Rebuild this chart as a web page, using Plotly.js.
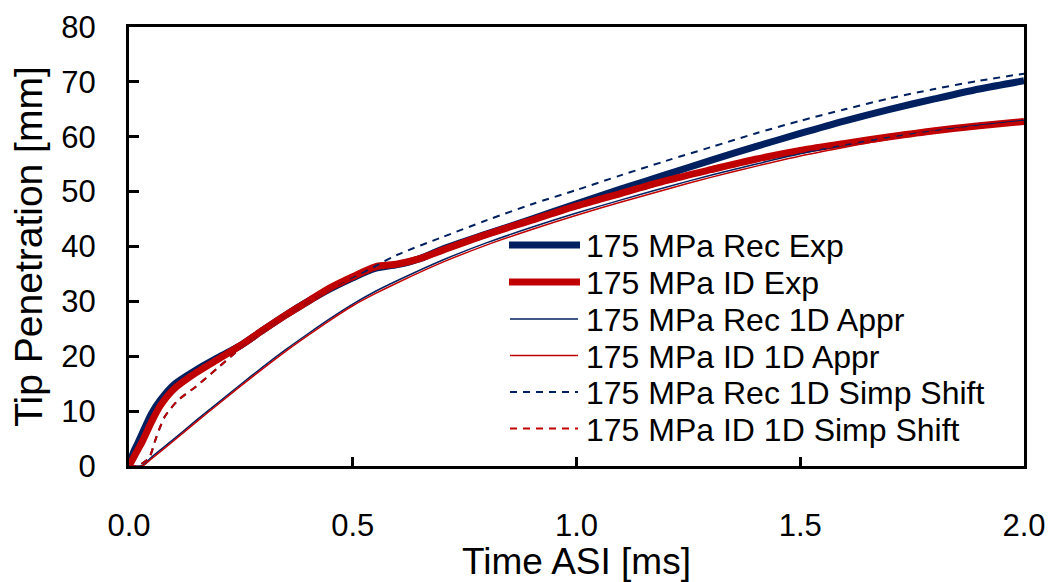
<!DOCTYPE html>
<html>
<head>
<meta charset="utf-8">
<script src="https://cdn.plot.ly/plotly-3.0.1.min.js"></script>
<style>html,body{margin:0;padding:0;background:#fff;}#chart{width:1055px;height:582px;}</style>
</head>
<body>
<div id="chart"></div>
<script>
// Time after start of injection [ms]
const timeExp = [0, 0.01, 0.02, 0.03, 0.05, 0.07, 0.1, 0.15, 0.2, 0.25, 0.3, 0.35, 0.4, 0.45, 0.5, 0.55, 0.6, 0.65, 0.7, 0.8, 0.9, 1.0, 1.1, 1.2, 1.3, 1.4, 1.5, 1.6, 1.7, 1.8, 1.9, 2.0];
const recExp = [0, 2.5, 4.2, 6, 9.5, 12, 14.8, 17.5, 19.8, 22, 24.8, 27.5, 30, 32.3, 34.3, 36, 36.7, 37.8, 39.5, 42.3, 45, 47.8, 50.5, 53.1, 55.7, 58.2, 60.6, 62.9, 65, 66.9, 68.7, 70.2];
const idExp = [0, 1.5, 3, 4.5, 8, 11, 14, 17, 19.5, 22, 24.8, 27.5, 30, 32.5, 34.5, 36.3, 36.8, 37.8, 39.3, 42.2, 44.8, 47.4, 49.7, 52, 54, 55.9, 57.5, 58.8, 60, 61.1, 62, 62.8];

const timeAppr = [0, 0.03, 0.05, 0.1, 0.15, 0.2, 0.25, 0.3, 0.35, 0.4, 0.45, 0.5, 0.55, 0.6, 0.7, 0.8, 0.9, 1.0, 1.1, 1.2, 1.3, 1.4, 1.5, 1.6, 1.7, 1.8, 1.9, 2.0];
const recAppr = [0, 0.1, 1.6, 4.9, 8.3, 11.6, 14.9, 18.1, 21.2, 24.1, 26.9, 29.5, 31.8, 33.8, 37.5, 40.7, 43.5, 46.1, 48.5, 50.8, 53, 55, 56.9, 58.5, 59.9, 61.1, 62.1, 63];
const idAppr = [0, 0, 1.3, 4.6, 8, 11.3, 14.6, 17.8, 20.9, 23.8, 26.6, 29.2, 31.4, 33.4, 37.1, 40.3, 43.1, 45.7, 48.1, 50.4, 52.6, 54.6, 56.5, 58.1, 59.6, 60.9, 61.9, 62.8];

const timeShift = [0, 0.02, 0.03, 0.045, 0.06, 0.08, 0.11, 0.15, 0.2, 0.25, 0.3, 0.35, 0.4, 0.45, 0.5, 0.55, 0.6, 0.7, 0.8, 0.9, 1.0, 1.1, 1.2, 1.3, 1.4, 1.5, 1.6, 1.7, 1.8, 1.9, 2.0];
const recShift = [0, 0, 0.5, 1.5, 5, 9, 12, 14.5, 18, 21.5, 24.5, 27.3, 29.8, 32, 34.2, 36.4, 38.5, 41.7, 44.8, 47.7, 50.3, 53, 55.6, 58.1, 60.6, 62.9, 65, 67, 68.7, 70.2, 71.5];
const idShift = [0, 0, 0.5, 1.5, 5, 9, 12, 14.5, 18, 21.5, 24.5, 27.3, 29.8, 32, 34, 35.8, 37, 39.5, 42, 44.5, 47, 49.4, 51.6, 53.7, 55.6, 57.2, 58.6, 59.9, 61, 61.9, 62.7];

const seriesNames = ["175 MPa Rec Exp", "175 MPa ID Exp", "175 MPa Rec 1D Appr", "175 MPa ID 1D Appr", "175 MPa Rec 1D Simp Shift", "175 MPa ID 1D Simp Shift"];
const xTickVals = [0, 0.5, 1.0, 1.5, 2.0];
const xTickText = ["0.0", "0.5", "1.0", "1.5", "2.0"];
const yTickVals = [0, 10, 20, 30, 40, 50, 60, 70, 80];

const NAVY = "#002060";
const RED = "#C00000";
const FONT = "Liberation Sans, Arial, sans-serif";

const styles = [
  {color: NAVY, width: 7},
  {color: RED, width: 7},
  {color: NAVY, width: 1.5},
  {color: RED, width: 1.5},
  {color: NAVY, width: 2, dash: "7px,6px"},
  {color: RED, width: 2, dash: "7px,6px"}
];
const xs = [timeExp, timeExp, timeAppr, timeAppr, timeShift, timeShift];
const ys = [recExp, idExp, recAppr, idAppr, recShift, idShift];

const traces = ys.map((y, i) => ({
  type: "scatter", mode: "lines", x: xs[i], y: y, name: seriesNames[i],
  line: Object.assign({shape: "spline", smoothing: 0.8}, styles[i]),
  showlegend: false
}));

// Legend drawn in paper coordinates (plot area: x 129..1024 px, y 27..466 px)
const plotL = 129, plotW = 895, plotB = 466, plotH = 439;
const px2x = p => (p - plotL) / plotW;
const px2y = p => (plotB - p) / plotH;
const legendRows = [245, 282, 319, 355.5, 392, 428.5];
const shapes = [];
const annotations = [];
legendRows.forEach((ry, i) => {
  const thick = styles[i].width > 5;
  shapes.push({
    type: "line", xref: "paper", yref: "paper",
    x0: px2x(thick ? 509 : 510), x1: px2x(thick ? 580 : 578), y0: px2y(ry), y1: px2y(ry),
    line: {color: styles[i].color, width: styles[i].width, dash: styles[i].dash || "solid"}
  });
  annotations.push({
    xref: "paper", yref: "paper", x: px2x(584), y: px2y(ry + 1),
    xanchor: "left", yanchor: "middle", showarrow: false,
    text: seriesNames[i], font: {family: FONT, size: 32, color: "#000"}
  });
});

const layout = {
  width: 1055, height: 582,
  margin: {l: plotL, r: 31, t: 27, b: 116},
  paper_bgcolor: "#fff", plot_bgcolor: "#fff",
  font: {family: FONT, color: "#000"},
  showlegend: false,
  shapes: shapes,
  annotations: annotations,
  xaxis: {
    range: [0, 2.0], tickvals: xTickVals, ticktext: xTickText,
    ticks: "inside", ticklen: 9, tickwidth: 3, tickcolor: "#000",
    showline: true, linewidth: 3, linecolor: "#000", mirror: true,
    showgrid: false, zeroline: false,
    tickfont: {family: FONT, size: 31, color: "#000"},
    ticklabelstandoff: 30,
    title: {text: "Time ASI [ms]", font: {family: FONT, size: 37, color: "#000"}, standoff: 3}
  },
  yaxis: {
    range: [0, 80], tickvals: yTickVals,
    ticks: "inside", ticklen: 10, tickwidth: 3, tickcolor: "#000",
    showline: true, linewidth: 3, linecolor: "#000", mirror: true,
    showgrid: false, zeroline: false,
    tickfont: {family: FONT, size: 31, color: "#000"},
    ticklabelstandoff: 24,
    title: {text: "Tip Penetration [mm]", font: {family: FONT, size: 39, color: "#000"}, standoff: 7}
  }
};

Plotly.newPlot("chart", traces, layout, {displayModeBar: false, staticPlot: true});
</script>
</body>
</html>
